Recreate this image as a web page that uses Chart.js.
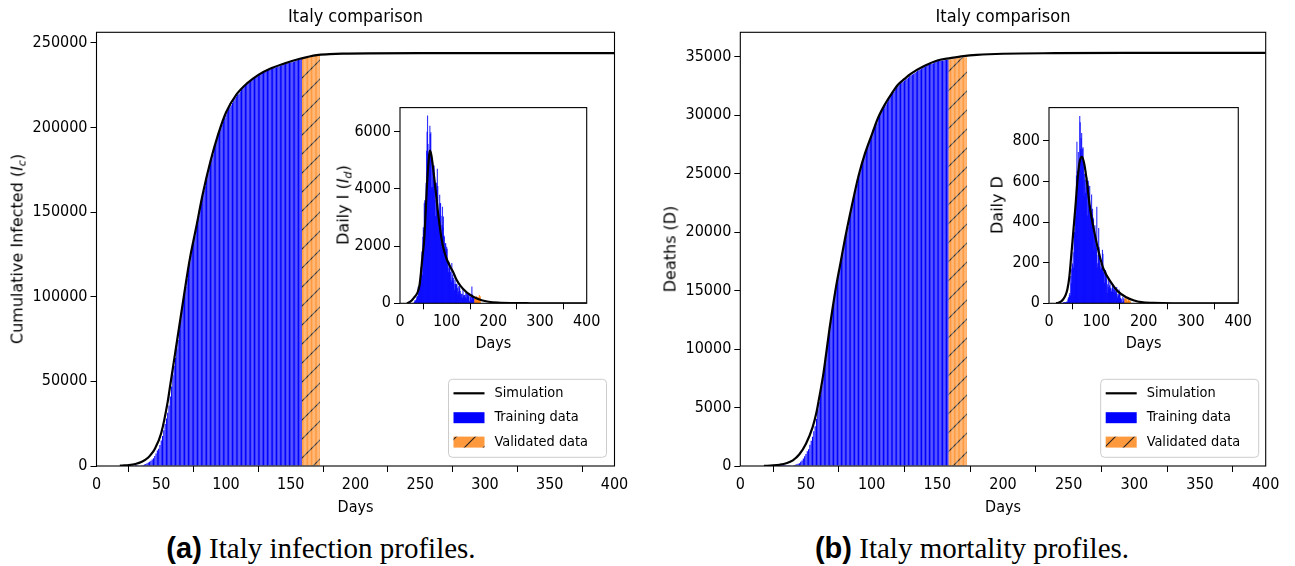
<!DOCTYPE html>
<html>
<head>
<meta charset="utf-8">
<title>Italy comparison</title>
<script src="https://cdn.jsdelivr.net/npm/chart.js"></script>
<style>
  body { margin: 0; background: #fff; }
  #fig { position: relative; width: 1295px; height: 566px; overflow: hidden; }
  #fig canvas { position: absolute; }
  .ylab { position: absolute; transform: translate(-50%, -50%) rotate(-90deg); white-space: nowrap;
          font: 16px 'DejaVu Sans', sans-serif; color: #000; }
  .ylab sub { font-size: 70%; vertical-align: -0.3em; line-height: 0; }
  .cap { position: absolute; top: 548px; transform: translate(-50%, -50%); white-space: nowrap;
         font: 29px 'Liberation Serif', 'Times New Roman', serif; color: #000; }
  .cap b { font-family: 'Liberation Sans', Arial, sans-serif; }
</style>
</head>
<body>
<div id="fig">
  <canvas id="mainA" width="640" height="530" style="left:0;top:0"></canvas>
  <canvas id="mainB" width="655" height="530" style="left:640px;top:0"></canvas>
  <canvas id="insetA" width="275" height="265" style="left:330px;top:95px"></canvas>
  <canvas id="insetB" width="275" height="265" style="left:980px;top:95px"></canvas>
  <div class="ylab" style="left:17px;top:249px">Cumulative Infected (<i>I<sub>c</sub></i>)</div>
  <div class="ylab" style="left:670px;top:249px">Deaths (D)</div>
  <div class="ylab" style="left:343px;top:205px">Daily I (<i>I<sub>d</sub></i>)</div>
  <div class="ylab" style="left:997px;top:205px">Daily D</div>
  <div class="cap" style="left:321px"><b>(a)</b> Italy infection profiles.</div>
  <div class="cap" style="left:972px"><b>(b)</b> Italy mortality profiles.</div>
</div>
<script>
// days are counted from 22 Jan 2020; training bars start at day 30, validation at day 159
const FIRST_DAY = 30;
const VALID_FIRST_DAY = 159;
const LEGEND_LABELS = ['Simulation', 'Training data', 'Validated data'];

// tick values
const mainDayTicks = [0, 50, 100, 150, 200, 250, 300, 350, 400];
const insetDayTicks = [0, 100, 200, 300, 400];
const infCumTicks = [0, 50000, 100000, 150000, 200000, 250000];
const deathCumTicks = [0, 5000, 10000, 15000, 20000, 25000, 30000, 35000];
const infDailyTicks = [0, 2000, 4000, 6000];
const deathDailyTicks = [0, 200, 400, 600, 800];

// cumulative infected, days 30..158 (training) and 159..172 (validation)
const infCumTrain = [
  20, 62, 155, 229, 322, 453, 655, 888, 1128, 1694,
  2036, 2502, 3089, 3858, 4636, 5883, 7375, 9172, 10149, 12462,
  15113, 17660, 21157, 24747, 27980, 31506, 35713, 41035, 47021, 53578,
  59138, 63927, 69176, 74386, 80589, 86498, 92472, 97689, 101739, 105792,
  110574, 115242, 119827, 124632, 128948, 132547, 135586, 139422, 143626, 147577,
  152271, 156363, 159516, 162488, 165155, 168941, 172434, 175925, 178972, 181228,
  183957, 187327, 189973, 192994, 195351, 197675, 199414, 201505, 203591, 205463,
  207428, 209328, 210717, 211938, 213013, 214457, 215858, 217185, 218268, 219070,
  219814, 221216, 222104, 223096, 223885, 224760, 225435, 225886, 226699, 227364,
  228006, 228658, 229327, 229858, 230158, 230555, 231139, 231732, 232248, 232664,
  232997, 233197, 233515, 233836, 234013, 234531, 234801, 234998, 235278, 235561,
  235763, 236142, 236305, 236651, 236989, 237290, 237500, 237828, 238159, 238200,
  238275, 238499, 238720, 238833, 239410, 239706, 239961, 240136, 240310
];
const infCumValid = [240436, 240578, 240760, 240961, 241184, 241419, 241611, 241819, 241956, 242149, 242363, 242639, 242827, 243061];

// daily infected (inset)
const infDailyTrain = [
  17, 42, 93, 74, 93, 131, 202, 233, 240, 566,
  342, 466, 587, 769, 778, 1247, 1492, 1797, 977, 2313,
  2651, 2547, 3497, 3590, 3233, 3526, 4207, 5322, 5986, 6557,
  5560, 4789, 5249, 5210, 6203, 5909, 5974, 5217, 4050, 4053,
  4782, 4668, 4585, 4805, 4316, 3599, 3039, 3836, 4204, 3951,
  4694, 4092, 3153, 2972, 2667, 3786, 3493, 3491, 3047, 2256,
  2729, 3370, 2646, 3021, 2357, 2324, 1739, 2091, 2086, 1872,
  1965, 1900, 1389, 1221, 1075, 1444, 1401, 1327, 1083, 802,
  744, 1402, 888, 992, 789, 875, 675, 451, 813, 665,
  642, 652, 669, 531, 300, 397, 584, 593, 516, 416,
  333, 200, 318, 321, 177, 518, 270, 197, 280, 283,
  202, 379, 163, 346, 338, 301, 210, 328, 331, 41,
  75, 224, 221, 113, 577, 296, 255, 175, 174
];
const infDailyValid = [126, 142, 182, 201, 223, 235, 192, 208, 137, 193, 214, 276, 188, 234];

// cumulative deaths
const deathCumTrain = [
  1, 2, 3, 7, 10, 12, 17, 21, 29, 34,
  52, 79, 107, 148, 197, 233, 366, 463, 631, 827,
  1016, 1266, 1441, 1809, 2158, 2503, 2978, 3405, 4032, 4825,
  5476, 6077, 6820, 7503, 8165, 9134, 10023, 10779, 11591, 12428,
  13155, 13915, 14681, 15362, 15887, 16523, 17127, 17669, 18279, 18849,
  19468, 19899, 20465, 21067, 21645, 22170, 22745, 23227, 23660, 24114,
  24648, 25085, 25549, 25969, 26384, 26644, 26977, 27359, 27682, 27967,
  28236, 28710, 28884, 29079, 29315, 29684, 29958, 30201, 30395, 30560,
  30739, 30911, 31106, 31368, 31610, 31763, 31908, 32007, 32169, 32330,
  32486, 32616, 32735, 32785, 32877, 32955, 33072, 33142, 33229, 33340,
  33415, 33475, 33530, 33601, 33689, 33774, 33846, 33899, 33964, 34043,
  34114, 34167, 34223, 34301, 34345, 34371, 34405, 34448, 34514, 34561,
  34610, 34634, 34657, 34675, 34675, 34678, 34708, 34716, 34738
];
const deathCumValid = [34744, 34767, 34788, 34818, 34833, 34854, 34861, 34869, 34899, 34914, 34926, 34938, 34945, 34954];

// daily deaths (inset)
const deathDailyTrain = [
  1, 1, 1, 4, 3, 2, 5, 4, 8, 5,
  18, 27, 28, 41, 49, 36, 133, 97, 168, 196,
  189, 250, 175, 368, 349, 345, 475, 427, 627, 793,
  651, 601, 743, 683, 662, 920, 889, 756, 812, 837,
  727, 760, 766, 681, 525, 636, 604, 542, 610, 570,
  619, 431, 566, 602, 578, 525, 575, 482, 433, 454,
  534, 437, 464, 420, 415, 260, 333, 382, 323, 285,
  269, 474, 174, 195, 236, 369, 274, 243, 194, 165,
  179, 172, 195, 262, 242, 153, 145, 99, 162, 161,
  156, 130, 119, 50, 92, 78, 117, 70, 87, 111,
  75, 60, 55, 71, 88, 85, 72, 53, 65, 79,
  71, 53, 56, 78, 44, 26, 34, 43, 66, 47,
  49, 24, 23, 18, 0, 3, 30, 8, 22
];
const deathDailyValid = [6, 23, 21, 30, 15, 21, 7, 8, 30, 15, 12, 12, 7, 9];

// simulation curves, sampled at the days where they were read
const simInfCumDays = [18, 20, 25, 30, 35, 40, 43, 45, 50, 55, 57, 60, 63, 65, 69, 72, 77, 82, 88, 94,
  100, 108, 116, 125, 134, 145, 157, 170, 180, 190, 210, 250, 300, 400];
const simInfCum = [150, 250, 550, 1200, 2500, 5000, 7700, 10000, 19500, 38000, 48000, 63000, 78000, 88000, 108000, 122000, 141000, 160500, 180000, 196000,
  208800, 219300, 225800, 231000, 234600, 237700, 240500, 242700, 243250, 243550, 243750, 243800, 243800, 243800];

const simInfDailyDays = [15, 18, 25, 30, 35, 38, 42, 45, 48, 52, 55, 57, 60, 62, 64, 67, 70, 76, 82, 89,
  95, 100, 107, 114, 120, 130, 142, 150, 160, 175, 190, 210, 240, 280, 320, 400];
const simInfDaily = [0, 20, 100, 200, 300, 395, 650, 1090, 1600, 2260, 3200, 3900, 4700, 5100, 5340, 5200, 4850, 4000, 3100, 2260,
  1800, 1550, 1300, 1090, 860, 600, 395, 300, 200, 105, 55, 25, 8, 2, 0, 0];

const simDeathCumDays = [18, 25, 30, 35, 40, 45, 50, 55, 58, 60, 63, 65, 68, 70, 73, 76, 80, 85, 90, 95,
  100, 105, 110, 115, 120, 125, 130, 140, 150, 160, 170, 180, 200, 240, 300, 400];
const simDeathCum = [10, 50, 110, 230, 480, 1000, 1900, 3300, 4600, 5800, 7700, 9300, 11800, 13300, 15400, 17200, 19600, 22300, 24800, 26750,
  28300, 29800, 30900, 31800, 32600, 33100, 33550, 34200, 34680, 34880, 35050, 35150, 35250, 35300, 35320, 35320];

const simDeathDailyDays = [15, 20, 25, 30, 35, 39, 43, 47, 52, 56, 60, 65, 70, 75, 80, 86, 95, 107, 115, 131,
  145, 163, 180, 195, 220, 260, 400];
const simDeathDaily = [0, 3, 8, 20, 40, 70, 130, 234, 370, 480, 600, 700, 721, 680, 600, 480, 360, 234, 170, 103,
  60, 30, 14, 6, 2, 0, 0];

// ---- fonts: use the condensed DejaVu face if there is one, otherwise a smaller normal one
function hasFont(name) {
  const g = document.createElement('canvas').getContext('2d');
  g.font = '40px monospace';
  const base = g.measureText('250000 Training data').width;
  g.font = "40px '" + name + "', monospace";
  return g.measureText('250000 Training data').width !== base;
}
const CONDENSED = hasFont('DejaVu Sans Condensed');
const FAMILY = CONDENSED ? "'DejaVu Sans Condensed', 'DejaVu Sans', sans-serif" : "'DejaVu Sans', sans-serif";
const FS = CONDENSED ? 16 : 14.6;
const LH = FS * 1.2;
const TFS = CONDENSED ? 18 : 17;
const TLH = TFS * 1.2;

Chart.defaults.font.family = FAMILY;
Chart.defaults.font.size = FS;
Chart.defaults.color = '#000';

const BLUE = '#0000ff';
const INSET_BLUE = 'rgba(0,0,255,0.8)';
const ORANGE = 'rgba(255,127,14,0.8)';

function makeHatch() {
  const c = document.createElement('canvas');
  c.width = 19; c.height = 19;
  const g = c.getContext('2d');
  g.fillStyle = ORANGE;
  g.fillRect(0, 0, 19, 19);
  g.strokeStyle = '#222';
  g.lineWidth = 1.1;
  g.beginPath();
  g.moveTo(0, 19); g.lineTo(19, 0);
  g.moveTo(-2, 2); g.lineTo(2, -2);
  g.moveTo(17, 21); g.lineTo(21, 17);
  g.stroke();
  return g.createPattern(c, 'repeat');
}
const hatch = makeHatch();

const run = (start, vals) => vals.map((v, i) => ({ x: start + i, y: v }));
const pairs = (days, vals) => days.map((d, i) => ({ x: d, y: vals[i] }));

// matplotlib-like box round the axes
const framePlugin = {
  id: 'frame',
  afterDraw(chart) {
    const { ctx, chartArea: a } = chart;
    ctx.save();
    ctx.strokeStyle = '#000';
    ctx.lineWidth = 1.1;
    ctx.strokeRect(a.left, a.top, a.right - a.left, a.bottom - a.top);
    ctx.restore();
  }
};

// legend box in the lower right corner of the plot
const boxLegend = {
  id: 'boxLegend',
  afterDraw(chart, args, opts) {
    if (!opts.show) return;
    const { ctx, chartArea: a } = chart;
    const w = 158, h = 78;
    const x0 = a.right - opts.right - w;
    const y0 = a.bottom - 8.7 - h;
    ctx.save();
    ctx.beginPath();
    ctx.roundRect(x0, y0, w, h, 4);
    ctx.fillStyle = 'rgba(255,255,255,0.8)';
    ctx.fill();
    ctx.strokeStyle = '#cccccc';
    ctx.lineWidth = 1;
    ctx.stroke();
    ctx.font = Math.min(FS, 14.4) + 'px ' + FAMILY;
    ctx.textBaseline = 'middle';
    LEGEND_LABELS.forEach((label, i) => {
      const cy = y0 + 14 + i * 24.4;
      if (i === 0) {
        ctx.strokeStyle = '#000';
        ctx.lineWidth = 2.2;
        ctx.beginPath();
        ctx.moveTo(x0 + 5, cy);
        ctx.lineTo(x0 + 36, cy);
        ctx.stroke();
      } else {
        ctx.fillStyle = i === 1 ? BLUE : hatch;
        ctx.fillRect(x0 + 5, cy - 5.5, 31, 11);
      }
      ctx.fillStyle = '#000';
      ctx.fillText(label, x0 + 46, cy);
    });
    ctx.restore();
  }
};

function axis(min, max, tickValues, extra) {
  return Object.assign({
    type: 'linear', min: min, max: max, offset: false,
    afterBuildTicks: s => { s.ticks = tickValues.map(v => ({ value: v })); },
    ticks: { autoSkip: false, maxRotation: 0, padding: 3, callback: v => String(v) },
    grid: { display: true, drawOnChartArea: false, drawTicks: true, tickLength: 6, tickColor: '#000', tickWidth: 1 },
    border: { display: false }
  }, extra);
}

function datasets(o, trainFill, validFill, catPct) {
  return [
    { type: 'line', label: LEGEND_LABELS[0], data: pairs(o.simDays, o.sim), borderColor: '#000', borderWidth: 2.2,
      pointRadius: 0, cubicInterpolationMode: 'monotone', order: 0 },
    { label: LEGEND_LABELS[1], data: run(FIRST_DAY, o.train), backgroundColor: trainFill, grouped: false,
      barPercentage: 1, categoryPercentage: catPct, order: 1 },
    { label: LEGEND_LABELS[2], data: run(VALID_FIRST_DAY, o.valid), backgroundColor: validFill, grouped: false,
      barPercentage: 1, categoryPercentage: catPct, order: 2 }
  ];
}

function drawMain(id, o) {
  const titleTop = 17 - TLH / 2;
  return new Chart(document.getElementById(id), {
    type: 'bar',
    data: { datasets: datasets(o, BLUE, hatch, 0.86) },
    options: {
      responsive: false,
      animation: false,
      layout: { padding: { left: 0, right: o.padRight, top: 0, bottom: 0 } },
      scales: {
        x: axis(0, 400, mainDayTicks, {
          title: { display: true, text: 'Days', padding: { top: 0, bottom: 530 - 508 - LH / 2 } },
          afterFit: s => { s.height = 64; }
        }),
        y: axis(0, o.yMax, o.yTicks, { afterFit: s => { s.width = o.yWidth; } })
      },
      plugins: {
        legend: { display: false },
        tooltip: { enabled: false },
        title: {
          display: true, text: 'Italy comparison', fullSize: false, color: '#000',
          font: { size: TFS, weight: 'normal' },
          padding: { top: titleTop, bottom: 32.3 - titleTop - TLH }
        },
        boxLegend: { show: true, right: o.legRight }
      }
    },
    plugins: [framePlugin, boxLegend]
  });
}

function drawInset(id, o) {
  return new Chart(document.getElementById(id), {
    type: 'bar',
    data: { datasets: datasets(o, INSET_BLUE, ORANGE, 1) },
    options: {
      responsive: false,
      animation: false,
      layout: { padding: { left: 0, right: o.padRight, top: 11.7, bottom: 0 } },
      scales: {
        x: axis(0, 400, insetDayTicks, {
          title: { display: true, text: 'Days', padding: { top: 0, bottom: 360 - 344.3 - LH / 2 } },
          afterFit: s => { s.height = 56.7; }
        }),
        y: axis(0, o.yMax, o.yTicks, { afterFit: s => { s.width = o.yWidth; } })
      },
      plugins: { legend: { display: false }, tooltip: { enabled: false } }
    },
    plugins: [framePlugin]
  });
}

drawMain('mainA', { simDays: simInfCumDays, sim: simInfCum, train: infCumTrain, valid: infCumValid,
  yMax: 256140, yTicks: infCumTicks, yWidth: 96.5, padRight: 25.5, legRight: 8 });
drawMain('mainB', { simDays: simDeathCumDays, sim: simDeathCum, train: deathCumTrain, valid: deathCumValid,
  yMax: 37086, yTicks: deathCumTicks, yWidth: 100.3, padRight: 29.3, legRight: 7 });
drawInset('insetA', { simDays: simInfDailyDays, sim: simInfDaily, train: infDailyTrain, valid: infDailyValid,
  yMax: 6846, yTicks: infDailyTicks, yWidth: 70, padRight: 18.3 });
drawInset('insetB', { simDays: simDeathDailyDays, sim: simDeathDaily, train: deathDailyTrain, valid: deathDailyValid,
  yMax: 963, yTicks: deathDailyTicks, yWidth: 69, padRight: 16.3 });
</script>
</body>
</html>
